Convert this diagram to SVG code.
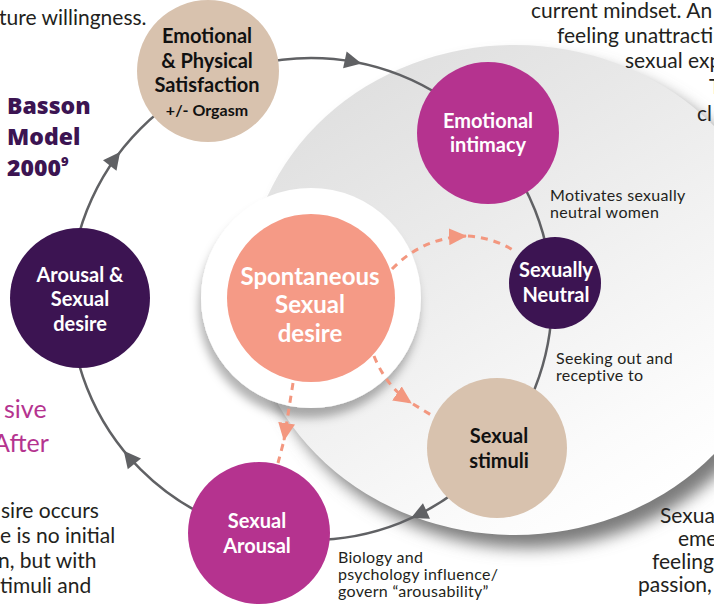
<svg xmlns="http://www.w3.org/2000/svg" width="714" height="608" viewBox="0 0 714 608">
<defs>
<style>
.body{font-family:Lato,"Liberation Sans",sans-serif;font-size:21px;fill:#231f20}
.lbl{font-family:Lato,"Liberation Sans",sans-serif;font-size:16px;letter-spacing:0.3px;fill:#231f20}
.nt{font-family:Lato,"Liberation Sans",sans-serif;font-weight:700;font-size:20px;text-anchor:middle}
.w{fill:#ffffff}
.k{fill:#111111}
.ring{fill:none;stroke:#606164;stroke-width:2.5}
.ah{fill:#606164}
.dash{fill:none;stroke:#f3977f;stroke-width:3;stroke-dasharray:7 6}
</style>
<linearGradient id="discG" x1="0.15" y1="0.05" x2="0.75" y2="0.95">
<stop offset="0" stop-color="#dedede"/>
<stop offset="0.5" stop-color="#efefef"/>
<stop offset="0.85" stop-color="#fbfbfb"/>
<stop offset="1" stop-color="#ffffff"/>
</linearGradient>
<filter id="blurS" x="-20%" y="-20%" width="140%" height="140%">
<feGaussianBlur stdDeviation="8"/>
</filter>
<filter id="ringS" x="-30%" y="-30%" width="160%" height="160%">
<feDropShadow dx="-2" dy="10" stdDeviation="5" flood-color="#000000" flood-opacity="0.3"/>
</filter>
<marker id="sa" markerUnits="userSpaceOnUse" markerWidth="18" markerHeight="17" refX="17" refY="8.5" orient="auto">
<path d="M0,0 L18,8.5 L0,17 Z" fill="#f3977f"/>
</marker>
</defs>
<rect width="714" height="608" fill="#ffffff"/>

<g id="disc">
<ellipse cx="526" cy="303" rx="268" ry="245" fill="#7c7c7c" filter="url(#blurS)"/>
<ellipse cx="515" cy="290" rx="268" ry="245" fill="url(#discG)"/>
</g>

<g id="texts">
<text class="body" x="-1" y="25">ture willingness.</text>
<text class="body" x="531" y="18">current mindset. An</text>
<text class="body" x="557" y="43">feeling unattracti</text>
<text class="body" x="625" y="68">sexual exp</text>
<text class="body" x="709" y="94">T</text>
<text class="body" x="697" y="121">cl</text>
<text class="body" x="660" y="523">Sexua</text>
<text class="body" x="678" y="546">emer</text>
<text class="body" x="652" y="569">feeling</text>
<text class="body" x="638" y="592">passion,</text>
<text class="body" x="1" y="518">sire occurs</text>
<text class="body" x="0" y="543">e is no initial</text>
<text class="body" x="-2" y="568">n, but with</text>
<text class="body" x="0" y="593">timuli and</text>
<text x="4" y="418" style="font-family:Lato,'Liberation Sans',sans-serif;font-size:25px;fill:#b5338f">sive</text>
<text x="-7" y="452" style="font-family:Lato,'Liberation Sans',sans-serif;font-size:25px;fill:#b5338f">After</text>
<g style="font-family:'Open Sans','Liberation Sans',sans-serif;font-weight:800;font-size:23px;fill:#3c1452">
<text x="7" y="114">Basson</text>
<text x="7" y="145">Model</text>
<text x="7" y="176">2000<tspan font-size="13" dy="-10">9</tspan></text>
</g>
</g>

<g id="connectors">
<circle class="ring" cx="311" cy="299" r="241"/>
<path class="ah" d="M0,0 L-17,-8.5 L-17,8.5 Z" transform="translate(361.5,63.4) rotate(12)"/>
<path class="ah" d="M0,0 L-17,-8.5 L-17,8.5 Z" transform="translate(411,518) rotate(155.5)"/>
<path class="ah" d="M0,0 L-17,-8.5 L-17,8.5 Z" transform="translate(123.7,450.7) rotate(231)"/>
<path class="ah" d="M0,0 L-17,-8.5 L-17,8.5 Z" transform="translate(120.1,152) rotate(-52.4)"/>
</g>

<g id="spontaneous">
<circle cx="311" cy="298" r="110" fill="#ffffff" filter="url(#ringS)"/>
<circle cx="311" cy="298" r="84" fill="#f59a86"/>
<g style="font-family:Lato,'Liberation Sans',sans-serif;font-weight:700;font-size:24px;text-anchor:middle;fill:#ffffff">
<text x="310" y="285">Spontaneous</text>
<text x="310" y="313">Sexual</text>
<text x="310" y="342">desire</text>
</g>
</g>

<g id="dashed-connectors">
<path class="dash" d="M392,269 Q422,238 466,236" marker-end="url(#sa)"/>
<path class="dash" d="M468,236 Q495,238 516,252"/>
<path class="dash" d="M374,356 Q386,386 411,403" marker-end="url(#sa)"/>
<path class="dash" d="M413,404 L441,421"/>
<path class="dash" d="M293,383 L284,440" marker-end="url(#sa)"/>
<path class="dash" d="M283,444 L278,463"/>
</g>

<g id="satisfaction">
<circle cx="208" cy="71" r="71" fill="#d8c2ae"/>
<text class="nt k" x="207" y="43">Emotional</text>
<text class="nt k" x="207" y="68">&amp; Physical</text>
<text class="nt k" x="207" y="92">Satisfaction</text>
<text class="nt k" x="207" y="116" style="font-size:16px">+/- Orgasm</text>
</g>

<g id="intimacy">
<circle cx="488" cy="133" r="71" fill="#b5338f"/>
<text class="nt w" x="488" y="128">Emotional</text>
<text class="nt w" x="488" y="152">intimacy</text>
</g>

<g id="neutral">
<circle cx="555" cy="283" r="46" fill="#3c1452"/>
<text class="nt w" x="556" y="277">Sexually</text>
<text class="nt w" x="556" y="302">Neutral</text>
</g>

<g id="stimuli">
<circle cx="497" cy="448" r="70" fill="#d8c2ae"/>
<text class="nt k" x="499" y="443">Sexual</text>
<text class="nt k" x="499" y="468">stimuli</text>
</g>

<g id="arousal">
<circle cx="259" cy="533" r="71" fill="#b5338f"/>
<text class="nt w" x="257" y="528">Sexual</text>
<text class="nt w" x="257" y="553">Arousal</text>
</g>

<g id="arousal-desire">
<circle cx="80" cy="298" r="70" fill="#3c1452"/>
<text class="nt w" x="80" y="282">Arousal &amp;</text>
<text class="nt w" x="80" y="306">Sexual</text>
<text class="nt w" x="80" y="331">desire</text>
</g>

<g id="labels">
<text class="lbl" x="550" y="201">Motivates sexually</text>
<text class="lbl" x="550" y="218">neutral women</text>
<text class="lbl" x="556" y="364">Seeking out and</text>
<text class="lbl" x="556" y="381">receptive to</text>
<text class="lbl" x="338" y="563">Biology and</text>
<text class="lbl" x="338" y="580">psychology influence/</text>
<text class="lbl" x="338" y="597">govern “arousability”</text>
</g>
</svg>
